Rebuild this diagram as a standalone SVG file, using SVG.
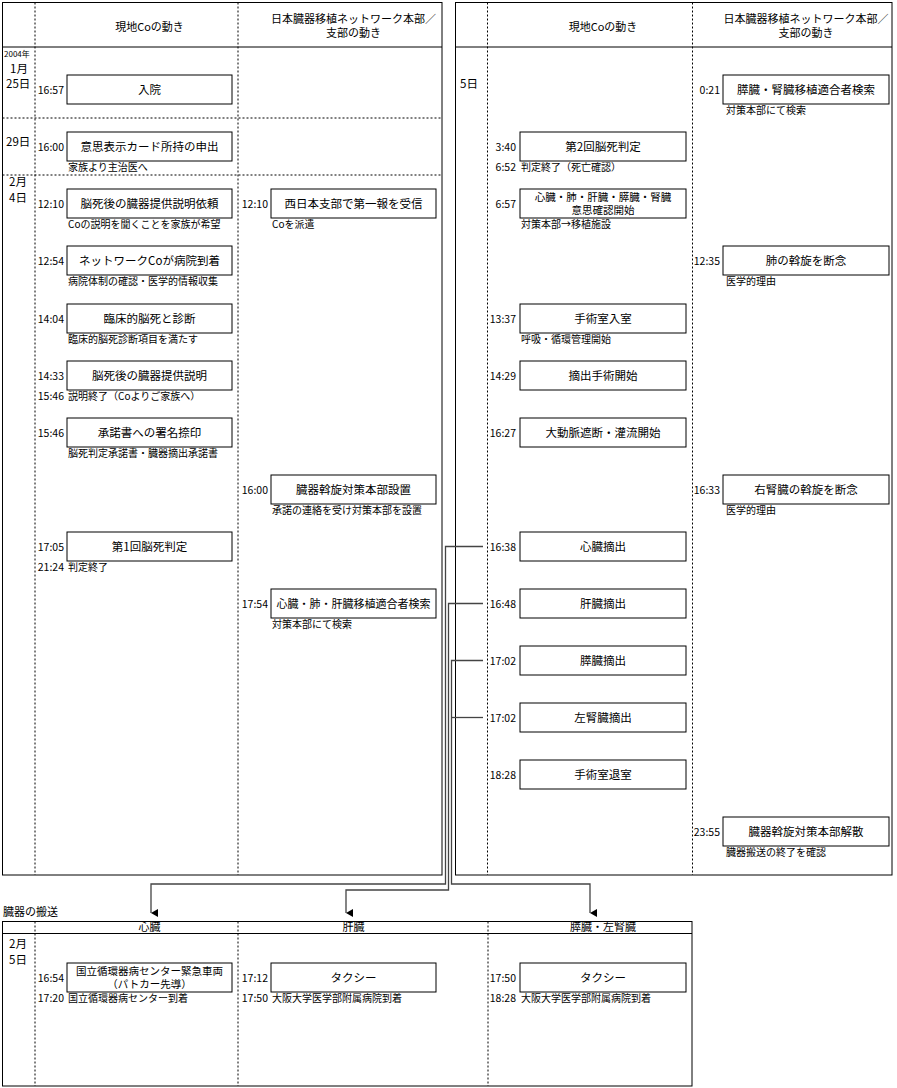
<svg xmlns="http://www.w3.org/2000/svg" width="897" height="1088" viewBox="0 0 897 1088">
<style>
text{font-family:"Noto Sans CJK JP","Noto Sans",sans-serif;fill:#000}
.box{fill:#fff;stroke:#000;stroke-width:1}
.bt{font-size:11.5px;text-anchor:middle}
.b2{font-size:10.5px;text-anchor:middle}
.tm{font-size:10.5px;text-anchor:end}
.sb{font-size:10px}
.hd{font-size:11px;text-anchor:middle}
.dt{font-size:11.5px}
.frame{fill:none;stroke:#000;stroke-width:1}
.dot{stroke:#000;stroke-width:1;stroke-dasharray:2 2;fill:none}
.line{stroke:#000;stroke-width:1;fill:none}
.conn{fill:none;stroke:#444;stroke-width:1.3}
</style>
<defs>
<marker id="arr" viewBox="0 0 8 8" refX="4" refY="8" markerWidth="8" markerHeight="8" markerUnits="userSpaceOnUse" orient="auto-start-reverse">
<path d="M0,1 L8,1 L4,8 Z" fill="#000"/>
</marker>
</defs>
<rect width="897" height="1088" fill="#fff"/>

<!-- frames -->
<g id="frames">
<rect class="frame" x="2.5" y="2.5" width="439.5" height="872.5"/>
<line class="line" x1="2.5" y1="47" x2="442" y2="47"/>
<line class="dot" x1="35" y1="2.5" x2="35" y2="875"/>
<line class="dot" x1="238" y1="2.5" x2="238" y2="875"/>
<line class="dot" x1="2.5" y1="118" x2="442" y2="118"/>
<line class="dot" x1="2.5" y1="175" x2="442" y2="175"/>
<rect class="frame" x="455.5" y="2.5" width="436.5" height="872.5"/>
<line class="line" x1="455.5" y1="47" x2="892" y2="47"/>
<line class="dot" x1="487.5" y1="2.5" x2="487.5" y2="875"/>
<line class="dot" x1="692.5" y1="2.5" x2="692.5" y2="875"/>
<rect class="frame" x="2.5" y="921.5" width="689.5" height="164.5"/>
<line class="line" x1="2.5" y1="933.5" x2="692" y2="933.5"/>
<line class="dot" x1="35" y1="921.5" x2="35" y2="1086"/>
<line class="dot" x1="238" y1="921.5" x2="238" y2="1086"/>
<line class="dot" x1="488" y1="921.5" x2="488" y2="1086"/>
</g>

<!-- headers and dates -->
<g id="headers">
<text class="hd" x="149.5" y="31">現地Coの動き</text>
<text class="hd" x="353.5" y="23">日本臓器移植ネットワーク本部／</text>
<text class="hd" x="353.5" y="37">支部の動き</text>
<text class="hd" x="603" y="31">現地Coの動き</text>
<text class="hd" x="806" y="23">日本臓器移植ネットワーク本部／</text>
<text class="hd" x="806" y="37">支部の動き</text>
<text x="4" y="57" style="font-size:8px">2004年</text>
<text class="dt" x="10" y="73">1月</text>
<text class="dt" x="6" y="88">25日</text>
<text class="dt" x="6" y="146">29日</text>
<text class="dt" x="9" y="186">2月</text>
<text class="dt" x="9" y="202">4日</text>
<text class="dt" x="460" y="88">5日</text>
<text x="3" y="916" style="font-size:11px">臓器の搬送</text>
<text class="hd" x="149.5" y="931">心臓</text>
<text class="hd" x="353.5" y="931">肝臓</text>
<text class="hd" x="603" y="931">膵臓・左腎臓</text>
<text class="dt" x="9" y="948">2月</text>
<text class="dt" x="9" y="964">5日</text>
</g>

<!-- left panel, column 1 -->
<g id="n-nyuin"><rect class="box" x="67" y="75" width="165" height="29"/><text class="bt" x="149.5" y="93.5">入院</text><text class="tm" x="64" y="93.5">16:57</text></g>
<g id="n-ishi"><rect class="box" x="67" y="132" width="165" height="29"/><text class="bt" x="149.5" y="150.5">意思表示カード所持の申出</text><text class="tm" x="64" y="150.5">16:00</text><text class="sb" x="68" y="171">家族より主治医へ</text></g>
<g id="n-irai"><rect class="box" x="67" y="189" width="165" height="29"/><text class="bt" x="149.5" y="207.5">脳死後の臓器提供説明依頼</text><text class="tm" x="64" y="207.5">12:10</text><text class="sb" x="68" y="228">Coの説明を聞くことを家族が希望</text></g>
<g id="n-touchaku"><rect class="box" x="67" y="246" width="165" height="29"/><text class="bt" x="149.5" y="264.5">ネットワークCoが病院到着</text><text class="tm" x="64" y="264.5">12:54</text><text class="sb" x="68" y="285">病院体制の確認・医学的情報収集</text></g>
<g id="n-rinsho"><rect class="box" x="67" y="304" width="165" height="29"/><text class="bt" x="149.5" y="322.5">臨床的脳死と診断</text><text class="tm" x="64" y="322.5">14:04</text><text class="sb" x="68" y="343">臨床的脳死診断項目を満たす</text></g>
<g id="n-setsumei"><rect class="box" x="67" y="361" width="165" height="29"/><text class="bt" x="149.5" y="379.5">脳死後の臓器提供説明</text><text class="tm" x="64" y="379.5">14:33</text><text class="tm" x="64" y="400">15:46</text><text class="sb" x="68" y="400">説明終了（Coよりご家族へ）</text></g>
<g id="n-shodaku"><rect class="box" x="67" y="418" width="165" height="29"/><text class="bt" x="149.5" y="436.5">承諾書への署名捺印</text><text class="tm" x="64" y="436.5">15:46</text><text class="sb" x="68" y="457">脳死判定承諾書・臓器摘出承諾書</text></g>
<g id="n-hantei1"><rect class="box" x="67" y="532" width="165" height="29"/><text class="bt" x="149.5" y="550.5">第1回脳死判定</text><text class="tm" x="64" y="550.5">17:05</text><text class="tm" x="64" y="571">21:24</text><text class="sb" x="68" y="571">判定終了</text></g>

<!-- left panel, column 2 -->
<g id="n-nishinihon"><rect class="box" x="271" y="189" width="165" height="29"/><text class="bt" x="353.5" y="207.5">西日本支部で第一報を受信</text><text class="tm" x="268" y="207.5">12:10</text><text class="sb" x="272" y="228">Coを派遣</text></g>
<g id="n-honbu"><rect class="box" x="271" y="475" width="165" height="29"/><text class="bt" x="353.5" y="493.5">臓器斡旋対策本部設置</text><text class="tm" x="268" y="493.5">16:00</text><text class="sb" x="272" y="514">承諾の連絡を受け対策本部を設置</text></g>
<g id="n-kensaku1"><rect class="box" x="271" y="589" width="165" height="29"/><text class="bt" x="353.5" y="607.5" style="font-size:11px">心臓・肺・肝臓移植適合者検索</text><text class="tm" x="268" y="607.5">17:54</text><text class="sb" x="272" y="628">対策本部にて検索</text></g>

<!-- right panel, column 1 -->
<g id="n-hantei2"><rect class="box" x="520" y="132" width="166" height="29"/><text class="bt" x="603" y="150.5">第2回脳死判定</text><text class="tm" x="516" y="150.5">3:40</text><text class="tm" x="516" y="171">6:52</text><text class="sb" x="521" y="171">判定終了（死亡確認）</text></g>
<g id="n-ishikakunin"><rect class="box" x="520" y="189" width="166" height="29"/><text class="b2" x="603" y="200.5">心臓・肺・肝臓・膵臓・腎臓</text><text class="b2" x="603" y="213.5">意思確認開始</text><text class="tm" x="516" y="207.5">6:57</text><text class="sb" x="521" y="228">対策本部→移植施設</text></g>
<g id="n-nyushitsu"><rect class="box" x="520" y="304" width="166" height="29"/><text class="bt" x="603" y="322.5">手術室入室</text><text class="tm" x="516" y="322.5">13:37</text><text class="sb" x="521" y="343">呼吸・循環管理開始</text></g>
<g id="n-shujutsu"><rect class="box" x="520" y="361" width="166" height="29"/><text class="bt" x="603" y="379.5">摘出手術開始</text><text class="tm" x="516" y="379.5">14:29</text></g>
<g id="n-daidomyaku"><rect class="box" x="520" y="418" width="166" height="29"/><text class="bt" x="603" y="436.5">大動脈遮断・灌流開始</text><text class="tm" x="516" y="436.5">16:27</text></g>
<g id="n-shinzo"><rect class="box" x="520" y="532" width="166" height="29"/><text class="bt" x="603" y="550.5">心臓摘出</text><text class="tm" x="516" y="550.5">16:38</text></g>
<g id="n-kanzo"><rect class="box" x="520" y="589" width="166" height="29"/><text class="bt" x="603" y="607.5">肝臓摘出</text><text class="tm" x="516" y="607.5">16:48</text></g>
<g id="n-suizo"><rect class="box" x="520" y="646" width="166" height="29"/><text class="bt" x="603" y="664.5">膵臓摘出</text><text class="tm" x="516" y="664.5">17:02</text></g>
<g id="n-jinzo"><rect class="box" x="520" y="703" width="166" height="29"/><text class="bt" x="603" y="721.5">左腎臓摘出</text><text class="tm" x="516" y="721.5">17:02</text></g>
<g id="n-taishitsu"><rect class="box" x="520" y="760" width="166" height="29"/><text class="bt" x="603" y="778.5">手術室退室</text><text class="tm" x="516" y="778.5">18:28</text></g>

<!-- right panel, column 2 -->
<g id="n-kensaku2"><rect class="box" x="723" y="75" width="166" height="29"/><text class="bt" x="806" y="93.5">膵臓・腎臓移植適合者検索</text><text class="tm" x="720" y="93.5">0:21</text><text class="sb" x="726" y="114">対策本部にて検索</text></g>
<g id="n-hai"><rect class="box" x="723" y="246" width="166" height="29"/><text class="bt" x="806" y="264.5">肺の斡旋を断念</text><text class="tm" x="720" y="264.5">12:35</text><text class="sb" x="726" y="285">医学的理由</text></g>
<g id="n-migijinzo"><rect class="box" x="723" y="475" width="166" height="29"/><text class="bt" x="806" y="493.5">右腎臓の斡旋を断念</text><text class="tm" x="720" y="493.5">16:33</text><text class="sb" x="726" y="514">医学的理由</text></g>
<g id="n-kaisan"><rect class="box" x="723" y="817" width="166" height="29"/><text class="bt" x="806" y="835.5">臓器斡旋対策本部解散</text><text class="tm" x="720" y="835.5">23:55</text><text class="sb" x="726" y="856">臓器搬送の終了を確認</text></g>

<!-- transport -->
<g id="t-heart"><rect class="box" x="67" y="963" width="165" height="29"/><text class="b2" x="149.5" y="974.5">国立循環器病センター緊急車両</text><text class="b2" x="149.5" y="987.5">（パトカー先導）</text><text class="tm" x="64" y="981.5">16:54</text><text class="tm" x="64" y="1002">17:20</text><text class="sb" x="68" y="1002">国立循環器病センター到着</text></g>
<g id="t-liver"><rect class="box" x="271" y="963" width="165" height="29"/><text class="bt" x="353.5" y="981.5">タクシー</text><text class="tm" x="268" y="981.5">17:12</text><text class="tm" x="268" y="1002">17:50</text><text class="sb" x="272" y="1002">大阪大学医学部附属病院到着</text></g>
<g id="t-kidney"><rect class="box" x="520" y="963" width="166" height="29"/><text class="bt" x="603" y="981.5">タクシー</text><text class="tm" x="516" y="981.5">17:50</text><text class="tm" x="516" y="1002">18:28</text><text class="sb" x="521" y="1002">大阪大学医学部附属病院到着</text></g>

<!-- connectors -->
<g id="connectors">
<path class="conn" d="M483,546.5 H445.5 V884 H151 V913" marker-end="url(#arr)"/>
<path class="conn" d="M483,603.5 H448.5 V890 H346 V913" marker-end="url(#arr)"/>
<path class="conn" d="M483,660.5 H451.5 V884 H590 V913" marker-end="url(#arr)"/>
<path class="conn" d="M483,717.5 H451.5"/>
</g>
</svg>
